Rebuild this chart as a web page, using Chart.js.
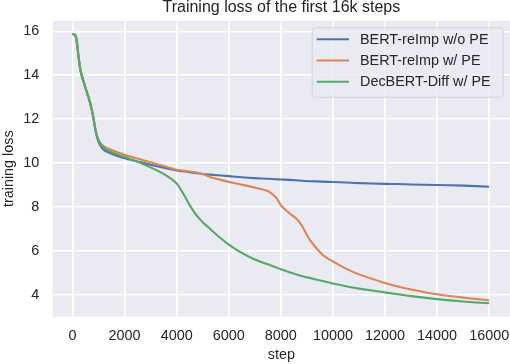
<!DOCTYPE html>
<html lang="en">
<head>
<meta charset="UTF-8">
<title>Training loss</title>
<script src="https://cdn.jsdelivr.net/npm/chart.js"></script>
<style>
  html, body { margin: 0; padding: 0; background: #fff; }
  .chart-box { width: 510px; height: 364px; }
</style>
</head>
<body>
<div class="chart-box"><canvas id="lossChart"></canvas></div>
<script>
// values
const steps = [0, 100, 160, 220, 310, 480, 670, 800, 900, 1030, 1250, 1600, 2000, 2500, 3000, 3500,
  4000, 4250, 4500, 4750, 5000, 5300, 5600, 6000, 6500, 7000, 7500, 7800, 8000, 8300, 8600, 8800,
  9100, 9600, 10000, 10500, 11000, 12000, 12500, 13000, 14000, 15000, 16000];

const lossNoPE = [15.88, 15.85, 15.58, 14.97, 14.2, 13.5, 12.77, 12.09, 11.38, 10.88, 10.55, 10.38, 10.22, 10.07, 9.92, 9.78,
  9.66, 9.62, 9.58, 9.54, 9.5, 9.47, 9.44, 9.4, 9.35, 9.31, 9.28, 9.26, 9.25, 9.23, 9.21, 9.19,
  9.17, 9.15, 9.13, 9.11, 9.08, 9.05, 9.04, 9.02, 9.0, 8.97, 8.92];

const lossPE = [15.88, 15.85, 15.58, 14.97, 14.2, 13.5, 12.77, 12.09, 11.42, 10.98, 10.72, 10.55, 10.38, 10.2, 10.03, 9.86,
  9.69, 9.65, 9.61, 9.57, 9.5, 9.35, 9.26, 9.14, 9.01, 8.88, 8.72, 8.45, 8.08, 7.74, 7.46, 7.16,
  6.52, 5.82, 5.51, 5.18, 4.92, 4.53, 4.37, 4.23, 4.01, 3.86, 3.74];

const lossDecDiff = [15.88, 15.85, 15.58, 14.97, 14.2, 13.5, 12.77, 12.09, 11.41, 10.95, 10.65, 10.45, 10.27, 10.06, 9.8, 9.5,
  9.07, 8.61, 8.08, 7.63, 7.3, 6.98, 6.66, 6.28, 5.9, 5.6, 5.38, 5.25, 5.15, 5.03, 4.92, 4.85,
  4.76, 4.62, 4.5, 4.38, 4.27, 4.1, 4.01, 3.93, 3.79, 3.68, 3.6];

const seriesNames = ['BERT-reImp w/o PE', 'BERT-reImp w/ PE', 'DecBERT-Diff w/ PE'];
const seriesColors = ['#4C72B0', '#DD8452', '#55A868'];
const xTicks = [0, 2000, 4000, 6000, 8000, 10000, 12000, 14000, 16000];
const yTicks = [4, 6, 8, 10, 12, 14, 16];

const FONT = '"Liberation Sans", Arial, sans-serif';
const TEXT = '#262626';

function series(i, values, order) {
  return {
    label: seriesNames[i],
    data: steps.map((s, k) => ({ x: s, y: values[k] })),
    borderColor: seriesColors[i],
    backgroundColor: seriesColors[i],
    borderWidth: 2.1,
    pointRadius: 0,
    tension: 0.2,
    order: order
  };
}

// grey plot face like seaborn darkgrid
const plotFace = {
  id: 'plotFace',
  beforeDraw(chart) {
    const { ctx, chartArea: a } = chart;
    ctx.save();
    ctx.fillStyle = '#EAEAF2';
    ctx.fillRect(a.left, a.top, a.right - a.left, a.bottom - a.top);
    ctx.restore();
  }
};

// title centred over the plot and a legend inside the upper right corner
const titleAndLegend = {
  id: 'titleAndLegend',
  afterDraw(chart) {
    const { ctx, chartArea: a } = chart;
    ctx.save();
    ctx.fillStyle = TEXT;
    ctx.font = '16px ' + FONT;
    ctx.textAlign = 'center';
    ctx.textBaseline = 'alphabetic';
    ctx.fillText('Training loss of the first 16k steps', (a.left + a.right) / 2, 11.8);

    const bx = a.right - 198.3, by = a.top + 6.6, bw = 191, bh = 69.4;
    ctx.beginPath();
    ctx.roundRect(bx + 0.5, by + 0.5, bw, bh, 3);
    ctx.fillStyle = 'rgba(234,234,242,0.8)';
    ctx.fill();
    ctx.strokeStyle = 'rgba(204,204,204,0.8)';
    ctx.lineWidth = 1;
    ctx.stroke();

    ctx.font = '14.4px ' + FONT;
    ctx.textAlign = 'left';
    ctx.textBaseline = 'middle';
    seriesNames.forEach((name, i) => {
      const y = by + 12 + i * 21.2;
      ctx.beginPath();
      ctx.moveTo(bx + 5, y);
      ctx.lineTo(bx + 37.3, y);
      ctx.strokeStyle = seriesColors[i];
      ctx.lineWidth = 2.1;
      ctx.stroke();
      ctx.fillStyle = TEXT;
      ctx.fillText(name, bx + 48.3, y + 0.5);
    });
    ctx.restore();
  }
};

new Chart(document.getElementById('lossChart'), {
  type: 'line',
  data: {
    datasets: [
      series(0, lossNoPE, 2),
      series(1, lossPE, 1),
      series(2, lossDecDiff, 0)
    ]
  },
  options: {
    responsive: true,
    maintainAspectRatio: false,
    animation: false,
    devicePixelRatio: 1,
    layout: { padding: { top: 20.7, left: 0, right: 0, bottom: 0 } },
    plugins: {
      legend: { display: false },
      title: { display: false },
      tooltip: { enabled: false }
    },
    scales: {
      x: {
        type: 'linear',
        min: -760,
        max: 16800,
        afterBuildTicks: s => { s.ticks = xTicks.map(v => ({ value: v })); },
        afterFit: s => { s.height = 47.3; s.paddingLeft = 0; s.paddingRight = 0; },
        grid: { color: '#ffffff', lineWidth: 1.6, drawTicks: false },
        border: { display: false },
        ticks: { color: TEXT, font: { family: FONT, size: 14.4 }, padding: 10.5, maxRotation: 0,
          callback: v => String(v) },
        title: { display: true, text: 'step', color: TEXT, font: { family: FONT, size: 14.4 }, padding: { top: 1, bottom: 0 } }
      },
      y: {
        type: 'linear',
        min: 2.99,
        max: 16.49,
        afterBuildTicks: s => { s.ticks = yTicks.map(v => ({ value: v })); },
        afterFit: s => { s.width = 52.7; s.paddingTop = 0; s.paddingBottom = 0; },
        grid: { color: '#ffffff', lineWidth: 1.6, drawTicks: false },
        border: { display: false },
        ticks: { color: TEXT, font: { family: FONT, size: 14.4 }, padding: 13.4,
          callback: v => String(v) },
        title: { display: true, text: 'training loss', color: TEXT, font: { family: FONT, size: 14.4 }, padding: { top: 0, bottom: 0 } }
      }
    }
  },
  plugins: [plotFace, titleAndLegend]
});
</script>
</body>
</html>
